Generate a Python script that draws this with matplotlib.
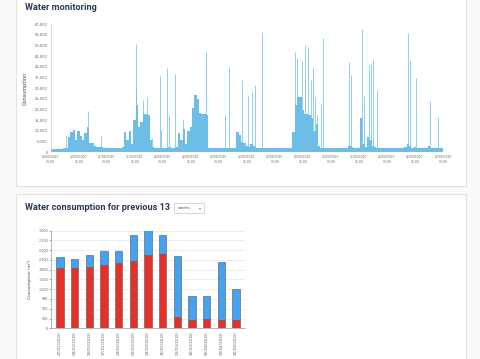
import matplotlib
matplotlib.use("Agg")
from matplotlib import pyplot as plt
from matplotlib.patches import Rectangle
import numpy as np

# ---- top chart data (hourly, 20/04/2020 00:00 .. 27/04/2020 00:00)
hourly = [1600, 1700, 1700, 1700, 1700, 1700, 1800, 1800, 7000, 9500,
          10500, 6000, 10000, 7500, 6000, 9000, 12000, 4500, 4300, 2800,
          2600, 2500, 2300, 2200, 2000, 2000, 2000, 1900, 1900, 2000,
          2000, 2300, 9500, 6000, 10000, 4000, 15000, 22000, 12000, 14000,
          18000, 18000, 17500, 6000, 2500, 2000, 1900, 2200, 2000, 2100,
          2200, 2500, 2000, 2200, 2500, 9000, 6000, 11000, 4000, 10000,
          12000, 21000, 27000, 25000, 18500, 18000, 18000, 17500, 2200, 2000,
          2000, 1900, 1900, 2000, 2000, 1900, 2000, 2000, 2000, 2100,
          9700, 8000, 5000, 4200, 3000, 2500, 4000, 3000, 2200, 2100,
          2000, 1900, 2000, 1900, 1900, 2000, 1900, 1900, 1900, 2000,
          1900, 1800, 1900, 2000, 9700, 22000, 26000, 26000, 20000, 18000,
          18000, 17500, 16000, 10000, 13500, 3000, 2200, 2000, 1900, 1900,
          2000, 1900, 1900, 1900, 2000, 1900, 2000, 2100, 3000, 2500,
          2200, 2100, 2200, 16000, 4000, 2500, 7000, 6000, 3000, 2500,
          2100, 2000, 1900, 1900, 1900, 2000, 1900, 1900, 1900, 2000,
          2100, 2200, 2500, 4000, 3000, 2200, 2300, 2100, 2000, 2000,
          2000, 2100, 3000, 2200, 2000, 2100, 2000, 2000, 2000]
spike_hours = [6.6, 16.0, 21.5, 36.4, 36.7, 39.8, 41.5, 43.3, 46.8, 47.2,
               49.9, 50.6, 53.4, 56.7, 66.5, 74.5, 76.6, 81.9, 84.7, 86.2,
               87.6, 90.5, 104.8, 105.7, 107.7, 109.0, 110.1, 111.3, 112.4,
               113.4, 114.2, 115.8, 116.8, 127.9, 128.6, 133.2, 134.3, 136.5,
               137.2, 138.2, 139.6, 153.1, 154.0, 156.3, 162.4, 165.7, 167.8]
spike_values = [8000, 19300, 7800, 51000, 30000, 24500, 26000, 6500, 35700, 10600,
                39600, 17400, 36600, 15400, 47500, 17400, 40000, 33800, 26300, 28400,
                31500, 56400, 47000, 44400, 42700, 50500, 48900, 33800, 39300,
                26000, 17400, 22600, 53700, 42400, 36100, 58000, 26300, 41100,
                41600, 43200, 29400, 56000, 43200, 34600, 24100, 16700, 13600]
top_ticks = ["20/04/2020\n00:00", "20/04/2020\n12:00", "21/04/2020\n00:00",
             "21/04/2020\n12:00", "22/04/2020\n00:00", "22/04/2020\n12:00",
             "23/04/2020\n00:00", "23/04/2020\n12:00", "24/04/2020\n00:00",
             "24/04/2020\n12:00", "25/04/2020\n00:00", "25/04/2020\n12:00",
             "26/04/2020\n00:00", "26/04/2020\n12:00", "27/04/2020\n00:00"]

# ---- bottom chart data (weekly)
weeks = ["27/01/2020", "03/02/2020", "10/02/2020", "17/02/2020", "24/02/2020",
         "02/03/2020", "09/03/2020", "16/03/2020", "23/03/2020", "30/03/2020",
         "06/04/2020", "13/04/2020", "20/04/2020"]
red_vals = [1850, 1850, 1890, 1940, 1995, 2050, 2245, 2290, 345, 260, 290, 240, 265]
total_vals = [2200, 2140, 2260, 2370, 2365, 2855, 3005, 2870, 2215, 990, 990, 2040, 1205]
blue_vals = [t - r for t, r in zip(total_vals, red_vals)]

W, H = 480, 359
fig = plt.figure(figsize=(4.8, 3.59), dpi=100)
fig.patch.set_facecolor('#fafafa')

def px_axes(x0, y0, x1, y1):
    return fig.add_axes([x0 / W, 1 - y1 / H, (x1 - x0) / W, (y1 - y0) / H])

# background / cards
bg = fig.add_axes([0, 0, 1, 1])
bg.set_xlim(0, W)
bg.set_ylim(H, 0)
bg.axis('off')
bg.add_patch(Rectangle((15.5, -5), 450, 191, facecolor='white', edgecolor='#e2e2e2', lw=0.8))
bg.add_patch(Rectangle((15.5, 194), 450, 175, facecolor='white', edgecolor='#e2e2e2', lw=0.8))
title_color = '#2a3956'
bg.text(25, 7, "Water monitoring", fontsize=6.6, fontweight='bold', family='Roboto',
        color=title_color, va='center', ha='left')
bg.text(25, 207, "Water consumption for previous 13", fontsize=6.6, fontweight='bold',
        family='Roboto', color=title_color, va='center', ha='left')
bg.add_patch(Rectangle((174, 202.5), 30, 10, facecolor='white', edgecolor='#cfcfcf', lw=0.6))
bg.text(178, 207.7, "weeks", fontsize=3, color='#555555', va='center', ha='left')
bg.text(199, 207.7, "\u25be", fontsize=3, color='#777777', va='center', ha='left')

# ---- top chart
ax = px_axes(50.5, 24.3, 443, 152.3)
hours = np.arange(len(hourly))
blue_fill = '#6cbee6'
ax.fill_between(hours, 0, hourly, color=blue_fill, lw=0, step='mid')
ax.vlines(spike_hours, 0, spike_values, color=blue_fill, lw=0.7, alpha=0.75)
ax.set_xlim(0, 168)
ax.set_ylim(0, 60000)
ax.set_yticks(range(0, 60001, 5000))
ax.set_yticklabels([f"{v:,}" for v in range(0, 60001, 5000)])
ax.set_xticks(range(0, 169, 12))
ax.set_xticklabels(top_ticks)
ax.tick_params(axis='y', labelsize=2.6, length=0, pad=2, colors='#666666')
ax.tick_params(axis='x', labelsize=2.2, length=0, pad=2, colors='#666666')
for s in ['top', 'right', 'bottom']:
    ax.spines[s].set_visible(False)
ax.spines['left'].set_color('#cccccc')
ax.spines['left'].set_linewidth(0.5)
ax.set_ylabel("Consumption", fontsize=3.6, color='#444444', labelpad=5)
ax.set_facecolor('none')

# ---- bottom chart
bx = px_axes(51.2, 230.5, 244.8, 328.3)
idx = np.arange(len(weeks))
bx.bar(idx, red_vals, width=0.52, color='#e5302a', edgecolor='#555555', lw=0.4, zorder=3)
bx.bar(idx, blue_vals, width=0.52, bottom=red_vals, color='#44a2ee',
       edgecolor='#555555', lw=0.4, zorder=3)
bx.set_xlim(-0.6, 12.6)
bx.set_ylim(0, 3000)
bx.set_yticks(range(0, 3001, 300))
bx.set_yticklabels([f"{v:,}" for v in range(0, 3001, 300)])
bx.set_xticks(idx)
bx.set_xticklabels(weeks, rotation=90)
bx.grid(axis='y', color='#e6e6e6', lw=0.5, zorder=0)
bx.tick_params(axis='y', labelsize=2.4, length=1.2, width=0.4, pad=1, colors='#666666')
bx.tick_params(axis='x', labelsize=3.0, length=0, pad=2, colors='#666666')
for s in ['top', 'right']:
    bx.spines[s].set_visible(False)
for s in ['left', 'bottom']:
    bx.spines[s].set_color('#999999')
    bx.spines[s].set_linewidth(0.5)
bx.set_ylabel("Consumption (m\u00b3)", fontsize=3.2, color='#444444', labelpad=5)
bx.set_facecolor('none')

fig.savefig("out.png", dpi=100, facecolor=fig.get_facecolor())
